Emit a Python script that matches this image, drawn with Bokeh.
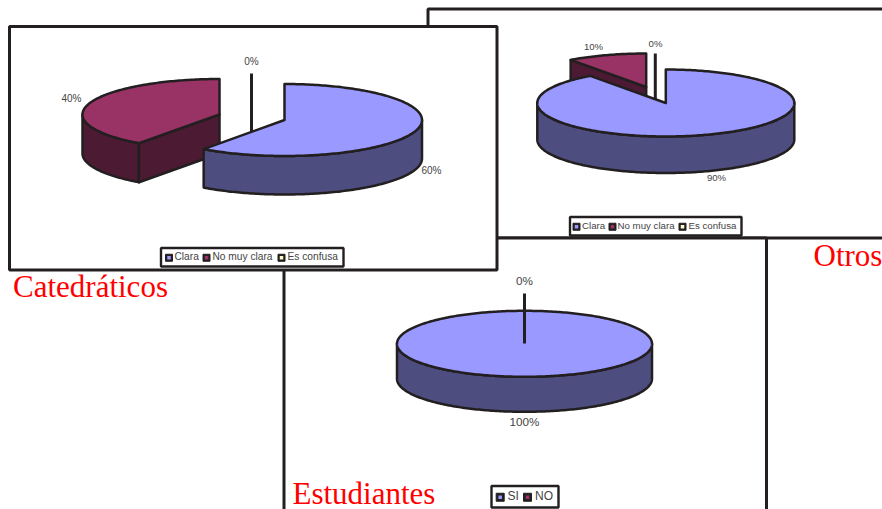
import numpy as np
from bokeh.plotting import figure
from bokeh.models import Range1d
from bokeh.core.properties import value
from bokeh.embed import file_html
from bokeh.resources import INLINE

# ---- data ----
cat_labels = ["Clara", "No muy clara", "Es confusa"]
cat_values = [60, 40, 0]
otros_labels = ["Clara", "No muy clara", "Es confusa"]
otros_values = [90, 10, 0]
est_labels = ["SI", "NO"]
est_values = [100, 0]
titles = ["Catedráticos", "Otros", "Estudiantes"]

TOP = ["#9999FF", "#993366", "#FFFFCC"]
SIDE = ["#4D4D80", "#4D1A33", "#80806A"]
INK = "#231F20"
TXT = "#444444"
RED = "#FF0000"
SANS = value("Liberation Sans")
SERIF = value("Liberation Serif")

W, H = 882, 509
p = figure(width=W, height=H, x_range=Range1d(0, W), y_range=Range1d(H, 0),
           output_backend="svg", toolbar_location=None, min_border=0,
           outline_line_color=None, background_fill_color="white",
           border_fill_color="white")
p.xaxis.visible = False
p.yaxis.visible = False
p.grid.visible = False


def box(l, r, t, b, lw=3):
    p.quad(left=[l], right=[r], top=[t], bottom=[b], fill_color="white",
           line_color=INK, line_width=lw)


def arc(c, rx, ry, a0, a1, dy=0.0):
    n = max(2, int(abs(a1 - a0)) + 1)
    a = np.radians(np.linspace(a0, a1, n))
    return c[0] + rx * np.sin(a), c[1] - ry * np.cos(a) + dy


def poly(xs, ys, color):
    p.patch(list(xs), list(ys), fill_color=color, line_color=INK, line_width=2.5,
            line_join="round")


def wedge(c, rx, ry, depth, a0, a1, i):
    """Excel style 3D slice, a0..a1 clockwise from 12 o'clock."""
    lo, hi = max(a0, 90), min(a1, 270)
    if hi > lo:
        x1, y1 = arc(c, rx, ry, lo, hi)
        x2, y2 = arc(c, rx, ry, lo, hi, depth)
        poly(np.r_[x1, x2[::-1]], np.r_[y1, y2[::-1]], SIDE[i])
    if a0 > 180 and a1 - a0 < 360:
        x, y = arc(c, rx, ry, a0, a0)
        poly([x[0], c[0], c[0], x[0]], [y[0], c[1], c[1] + depth, y[0] + depth], SIDE[i])
    x, y = arc(c, rx, ry, a0, a1)
    if a1 - a0 >= 360:
        poly(x, y, TOP[i])
    else:
        poly(np.r_[c[0], x], np.r_[c[1], y], TOP[i])


def spike(x, t, b):
    p.line([x, x], [t, b], line_color=INK, line_width=3)


def labels(xs, ys, txt, size):
    p.text(xs, ys, text=txt, text_font=SANS, text_font_size=size, text_color=TXT,
           text_align="center", text_baseline="middle")


def legend(l, r, t, b, keys, text_x, names, size):
    p.quad(left=[l], right=[r], top=[t], bottom=[b], fill_color="white",
           line_color=INK, line_width=2.4)
    cy = (t + b) / 2
    k = 7 if size != "12px" else 8
    p.rect(keys, [cy + .5] * len(keys), width=k, height=k, fill_color=INK, line_color=INK, line_width=1)
    p.rect(keys, [cy + .5] * len(keys), width=3.5, height=3.5, fill_color=TOP[:len(keys)], line_color=None)
    p.text(text_x, [cy - 1] * len(keys), text=names, text_font=SANS, text_font_size=size,
           text_color=TXT, text_align="left", text_baseline="middle")


def title(x, y, s):
    p.text([x], [y], text=[s], text_font=SERIF, text_font_size="31px", text_color=RED,
           text_align="left", text_baseline="middle")


# ---- frames of the three pasted charts ----
box(427.5, 930, 8.5, 237.5)
box(283.5, 766, 237.5, 560)

# ---- Otros ----
split = 360 - otros_values[1] * 3.6
spike(654.8, 53, 100)
wedge((645.7, 86.5), 128.5, 33.5, 37, split, 360, 1)
wedge((665.3, 102.5), 128.5, 33.5, 36.5, 0, split, 0)
labels([716, 593, 655], [176.5, 45.5, 42.5], [f"{v}%" for v in otros_values], "9.6px")
legend(569.5, 741, 216.5, 235, [576, 612, 682], [581.5, 617, 688], otros_labels, "9.7px")

# ---- Estudiantes ----
wedge((524, 343.3), 127.5, 33, 35, 0, est_values[0] * 3.6, 0)
spike(524, 293, 343)
labels([524, 524], [420.5, 279.5], [f"{v}%" for v in est_values], "11.7px")
legend(491, 558, 485.5, 507, [499.7, 527], [507, 534.5], est_labels, "12px")

# ---- Catedráticos (on top of the others) ----
box(9, 496.5, 26, 269.5)
split = cat_values[0] * 3.6
spike(251, 73, 132)
wedge((219, 114), 137, 35.5, 39, split, 360, 1)
wedge((284, 119.5), 137.5, 36, 38.5, 0, split, 0)
labels([431, 71, 251], [170, 98, 61], [f"{v}%" for v in cat_values], "10px")
legend(160.5, 343, 247.5, 266, [168.5, 206, 281], [174, 212, 287], cat_labels, "10.2px")

# ---- captions ----
title(12.5, 286, titles[0])
title(813, 255, titles[1])
title(292, 492.5, titles[2])

open("out.html", "w").write(file_html(p, INLINE))
